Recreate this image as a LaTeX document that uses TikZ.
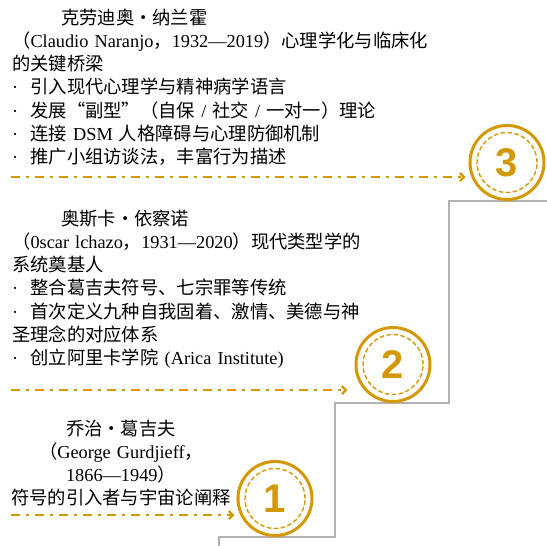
\documentclass[tikz,border=0pt]{standalone}
\usepackage{fontspec}
\setmainfont{Liberation Serif}
\newfontfamily\cjk{Noto Sans CJK SC}
\newfontfamily\numfont{Liberation Sans}
\usetikzlibrary{arrows.meta}
\definecolor{gold}{RGB}{212,152,4}
\definecolor{stairgray}{RGB}{178,178,178}
\newcommand{\lat}[1]{{\rmfamily #1}}
\newcommand{\bul}{\makebox[1em][l]{\rmfamily ·}}
\tikzset{
  txt/.style={font=\cjk\fontsize{18.3}{23.3}\selectfont, inner sep=0pt, align=left, anchor=base west},
  badge/.style={circle, draw=gold, line width=3pt, minimum size=74pt, inner sep=0pt, text=gold,
    font=\numfont\bfseries\fontsize{40}{40}\selectfont},
  ring/.style={gold, line width=1.4pt, dash pattern=on 4.5pt off 2.5pt},
  flow/.style={->, gold, line width=2.3pt, dash pattern=on 9pt off 6pt on 2.5pt off 6.5pt},
  stair/.style={stairgray, line width=1.6pt}
}
\begin{document}
\begin{tikzpicture}[x=1pt,y=-1pt,>={Straight Barb[length=4pt,width=8pt]}]
\useasboundingbox (0,0) rectangle (547,546);
% staircase
\draw[stair] (219,546) -- (219,537) -- (335,537) -- (335,403) -- (449,403) -- (449,201) -- (547,201);
% badges
\node[badge] (c1) at (275,498.5) {1};
\node[badge] (c2) at (393,364.5) {2};
\node[badge] (c3) at (507,162.5) {3};
\draw[ring] (c1.center) circle[radius=30pt];
\draw[ring] (c2.center) circle[radius=30pt];
\draw[ring] (c3.center) circle[radius=30pt];
% texts
\node[txt, text width=440pt] (naranjo) at (12,24) {\hspace*{49pt}克劳迪奥・纳兰霍\\
（\lat{Claudio Naranjo}，\lat{1932—2019}）心理学化与临床化\\
的关键桥梁\\
\bul 引入现代心理学与精神病学语言\\
\bul 发展“副型”（自保\lat{ / }社交\lat{ / }一对一）理论\\
\bul 连接\lat{ DSM }人格障碍与心理防御机制\\
\bul 推广小组访谈法，丰富行为描述};
\node[txt, text width=380pt] (ichazo) at (12,225) {\hspace*{49pt}奥斯卡・依察诺\\
（\lat{0scar lchazo}，\lat{1931—2020}）现代类型学的\\
系统奠基人\\
\bul 整合葛吉夫符号、七宗罪等传统\\
\bul 首次定义九种自我固着、激情、美德与神\\
圣理念的对应体系\\
\bul 创立阿里卡学院\lat{ (Arica Institute)}};
\node[txt, text width=240pt, align=center, anchor=base] (gurdjieff) at (121,435) {乔治・葛吉夫\\
（\lat{George Gurdjieff}，\\
\lat{1866—1949}）\\
符号的引入者与宇宙论阐释};
% arrows
\coordinate (s1) at (11,515);
\coordinate (s2) at (11,390);
\coordinate (s3) at (11,177);
\draw[flow, shorten >=2pt] (s1) -- (s1 -| c1.west);
\draw[flow, shorten >=7pt] (s2) -- (s2 -| c2.west);
\draw[flow, shorten >=3pt] (s3) -- (s3 -| c3.west);
\end{tikzpicture}
\end{document}
